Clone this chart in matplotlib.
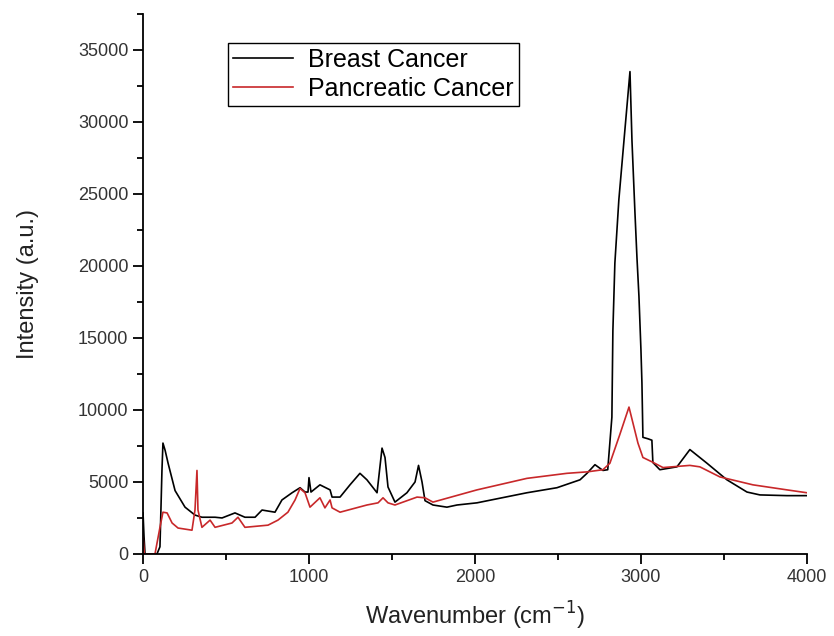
#!/usr/bin/env python3

import matplotlib
matplotlib.use("Agg")
import matplotlib.pyplot as plt
from matplotlib.ticker import MultipleLocator

# -------------------------
# DATA
# -------------------------

breast_x = [0, 6, 12, 84, 102, 114, 120, 133, 151, 193, 253, 313, 355, 434, 476,
            554, 614, 675, 717, 795, 837, 898, 946, 976, 994, 1000, 1012, 1066,
            1127, 1139, 1187, 1247, 1307, 1349, 1410, 1440, 1458, 1476, 1518,
            1590, 1639, 1660, 1681, 1699, 1747, 1831, 1892, 2012, 2313, 2494,
            2633, 2675, 2723, 2771, 2800, 2825, 2831, 2843, 2867, 2900, 2934,
            2946, 2964, 2976, 2988, 3000, 3006, 3012, 3042, 3066, 3072, 3114,
            3217, 3295, 3398, 3518, 3639, 3717, 3880, 4000]
breast_y = [2850, 1200, 0, 0, 500, 5800, 7700, 7200, 6300, 4400, 3250, 2700, 2550,
            2550, 2500, 2850, 2550, 2550, 3050, 2900, 3750, 4250, 4600, 4300, 4300,
            5300, 4300, 4800, 4450, 3950, 3950, 4800, 5600, 5150, 4250, 7350, 6700,
            4650, 3600, 4250, 5000, 6150, 5000, 3700, 3400, 3250, 3400, 3550, 4250,
            4600, 5150, 5600, 6200, 5800, 5850, 9500, 15500, 20200, 24600, 29000,
            33500, 28700, 23700, 20600, 17900, 14200, 11900, 8100, 8000, 7900, 6350,
            5850, 6050, 7250, 6300, 5150, 4300, 4100, 4050, 4050]

pancreatic_x = [0, 8, 72, 102, 120, 145, 175, 211, 295, 313, 325, 331, 355, 404,
                434, 536, 572, 614, 753, 813, 873, 916, 946, 976, 1006, 1066, 1096,
                1127, 1139, 1187, 1349, 1416, 1446, 1476, 1518, 1651, 1699, 1747,
                2012, 2313, 2554, 2675, 2771, 2813, 2873, 2928, 2982, 3012, 3066,
                3133, 3295, 3355, 3476, 3675, 3880, 4000]
pancreatic_y = [1200, 0, 0, 1850, 2900, 2850, 2150, 1800, 1650, 3050, 5800, 3050,
                1850, 2350, 1850, 2150, 2550, 1850, 2000, 2350, 2900, 3750, 4550,
                4250, 3250, 3900, 3200, 3750, 3200, 2900, 3400, 3550, 3900, 3550,
                3400, 3950, 3900, 3600, 4450, 5250, 5600, 5700, 5850, 6300, 8300,
                10200, 7700, 6700, 6400, 6000, 6150, 6050, 5350, 4800, 4450, 4250]

labels = ["Breast Cancer", "Pancreatic Cancer"]

# -------------------------
# PLOT
# -------------------------

plt.rcParams["font.family"] = ["Liberation Sans", "DejaVu Sans"]

fig = plt.figure(figsize=(8.34, 6.36), dpi=100)
ax = fig.add_axes([0.1715, 0.129, 0.796, 0.849])

ax.plot(breast_x, breast_y, color="black", lw=1.2, label=labels[0])
ax.plot(pancreatic_x, pancreatic_y, color="#c8282a", lw=1.2, label=labels[1])

ax.set_xlim(0, 4000)
ax.set_ylim(0, 37500)
ax.xaxis.set_major_locator(MultipleLocator(1000))
ax.xaxis.set_minor_locator(MultipleLocator(500))
ax.yaxis.set_major_locator(MultipleLocator(5000))
ax.yaxis.set_minor_locator(MultipleLocator(2500))

for side in ["top", "right"]:
    ax.spines[side].set_visible(False)
for side in ["left", "bottom"]:
    ax.spines[side].set_linewidth(1.3)

ax.tick_params(which="major", direction="out", length=7, width=1.3,
               labelsize=13, labelcolor="#333333")
ax.tick_params(which="minor", direction="out", length=4, width=1.3)

ax.set_xlabel("Wavenumber (cm$^{-1}$)", fontsize=17, color="#222222", labelpad=10)
ax.set_ylabel("Intensity (a.u.)", fontsize=17, color="#222222", labelpad=28)

leg = ax.legend(loc="upper left", bbox_to_anchor=(0.128, 0.946), fontsize=18,
                fancybox=False, framealpha=1, edgecolor="black",
                borderpad=0.2, handlelength=2.4, handletextpad=0.6,
                labelspacing=0.2, borderaxespad=0)
leg.get_frame().set_linewidth(1.0)

fig.savefig("out.png", dpi=100)
